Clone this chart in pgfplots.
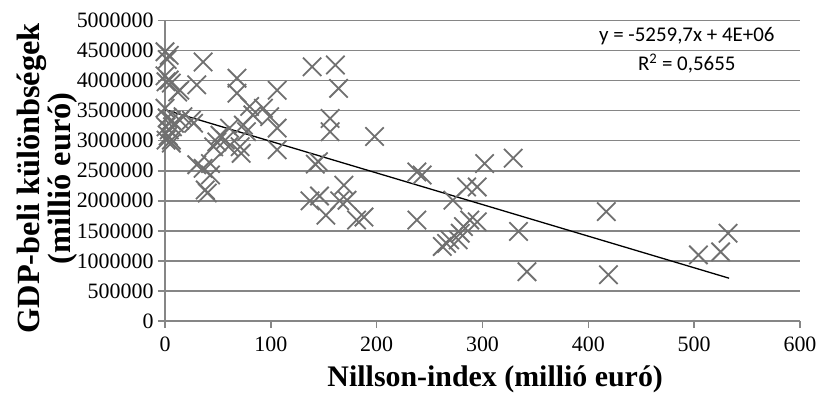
\documentclass[border=0pt]{standalone}
\usepackage{pgfplots}
\pgfplotsset{compat=1.18}
\usepackage{fontspec}
\setmainfont{Liberation Serif}
\newfontfamily\calibri{Carlito}
\definecolor{gridc}{RGB}{134,134,134}
\definecolor{markc}{RGB}{112,112,112}
\begin{document}
\begin{tikzpicture}
\useasboundingbox (-165bp,-72bp) rectangle (653bp,321bp);
\begin{axis}[
  at={(0,0)}, anchor=south west,
  scale only axis, width=635bp, height=300.5bp,
  xmin=0, xmax=600, ymin=0, ymax=5000000,
  xtick={0,100,200,300,400,500,600},
  ytick={0,500000,1000000,1500000,2000000,2500000,3000000,3500000,4000000,4500000,5000000},
  yticklabels={0,500000,1000000,1500000,2000000,2500000,3000000,3500000,4000000,4500000,5000000},
  ymajorgrids, grid style={gridc, line width=1.5bp},
  axis x line*=bottom, axis y line*=left,
  axis line style={gridc, line width=1.5bp, -},
  tick style={gridc, line width=1.5bp},
  tick align=outside, major tick length=7bp,
  scaled y ticks=false,
  /pgf/number format/assume math mode=true,
  tick label style={font=\fontsize{22}{25}\selectfont},
  xticklabel style={yshift=-5bp},
  yticklabel style={xshift=-1bp},
  xlabel={Nillson-index (millió euró)},
  ylabel={GDP-beli különbségek\\(millió euró)},
  xlabel style={font=\fontsize{30}{32}\selectfont\bfseries, at={(axis description cs:0.52,-0.195)}, anchor=center},
  ylabel style={font=\fontsize{32.5}{31}\selectfont\bfseries, align=center, at={(axis description cs:-0.186,0.475)}, anchor=center},
  clip=false,
]
\addplot[only marks, mark=x, mark size=13bp, mark options={markc, line width=1.8bp}] coordinates {
(0,4480000)(4,4420000)(2,4350000)(0,4080000)(4,4010000)(6,3960000)(1,3980000)
(0,3540000)(2,3380000)(6,3340000)(1,3230000)(4,3180000)(7,3230000)(1,3010000)
(6,2960000)(3,3080000)(9,3290000)(6,3010000)(12,3810000)(14,3340000)(17,3400000)
(14,3840000)(30,3930000)(36,4310000)(68,4040000)(68,3790000)(106,3840000)
(80,3570000)(93,3540000)(83,3430000)(99,3400000)(106,3210000)(25,3340000)
(27,3290000)(74,3260000)(77,3150000)(61,3210000)(52,3090000)(57,3010000)
(49,2980000)(60,2900000)(71,2900000)(46,2900000)(72,2790000)(106,2850000)
(30,2600000)(36,2540000)(43,2620000)(43,2430000)(38,2180000)(40,2130000)
(145,2650000)(142,2610000)(156,3370000)(156,3150000)(164,3870000)
(139,4230000)(161,4260000)(137,2000000)(146,2080000)(152,1760000)
(165,2000000)(169,2260000)(172,2010000)(181,1680000)(188,1730000)
(198,3070000)(238,2480000)(243,2430000)(238,1680000)(302,2620000)
(329,2710000)(285,2230000)(295,2230000)(272,2010000)(288,1680000)
(295,1650000)(282,1570000)(279,1460000)(269,1350000)(262,1240000)
(277,1350000)(266,1290000)(334,1490000)(342,820000)(417,1820000)
(419,770000)(504,1100000)(525,1150000)(532,1460000)
};
\addplot[black, line width=1.3bp] coordinates {(0,3515000)(533,712000)};
\node[font=\calibri\fontsize{21}{24}\selectfont] at (axis cs:493,4740000) {y = -5259,7x + 4E+06};
\node[font=\calibri\fontsize{21}{24}\selectfont] at (axis cs:493,4280000) {R\textsuperscript{2} = 0,5655};
\end{axis}
\end{tikzpicture}
\end{document}
